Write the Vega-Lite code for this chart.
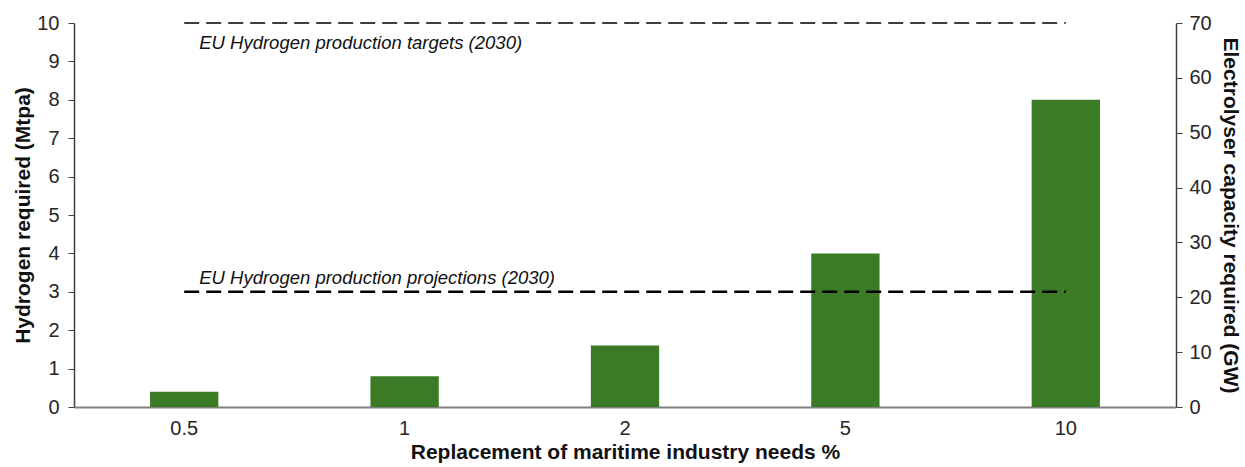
{
  "$schema": "https://vega.github.io/schema/vega-lite/v6.json",
  "width": 1102,
  "height": 384,
  "autosize": {"type": "none"},
  "padding": {"left": 74, "top": 23, "right": 69, "bottom": 60},
  "background": "white",
  "config": {
    "view": {"stroke": null},
    "font": "Liberation Sans",
    "axis": {
      "labelFont": "Liberation Sans",
      "titleFont": "Liberation Sans",
      "labelFontSize": 20,
      "titleFontSize": 21,
      "labelColor": "#262626",
      "titleColor": "#111111",
      "titleFontWeight": "bold",
      "labelOverlap": false,
      "labelFlush": false,
      "grid": false,
      "domainColor": "#404040",
      "tickColor": "#404040"
    }
  },
  "datasets": {
    "bars": [
      {"share": "0.5", "mtpa": 0.4, "gw": 2.8},
      {"share": "1", "mtpa": 0.8, "gw": 5.6},
      {"share": "2", "mtpa": 1.6, "gw": 11.2},
      {"share": "5", "mtpa": 4.0, "gw": 28},
      {"share": "10", "mtpa": 8.0, "gw": 56}
    ],
    "refs": [
      {"share": "0.5", "mtpa": 10, "series": "targets", "label": "EU Hydrogen production targets (2030)"},
      {"share": "10", "mtpa": 10, "series": "targets", "label": ""},
      {"share": "0.5", "mtpa": 3, "series": "projections", "label": "EU Hydrogen production projections (2030)"},
      {"share": "10", "mtpa": 3, "series": "projections", "label": ""}
    ]
  },
  "encoding": {
    "x": {
      "field": "share",
      "type": "ordinal",
      "sort": ["0.5", "1", "2", "5", "10"],
      "scale": {"paddingInner": 0.69, "paddingOuter": 0.345},
      "axis": {
        "title": "Replacement of maritime industry needs %",
        "labelAngle": 0,
        "ticks": false,
        "labelPadding": 11,
        "titlePadding": 3,
        "domainColor": "#808080",
        "domainWidth": 2
      }
    }
  },
  "layer": [
    {
      "data": {"name": "bars"},
      "mark": {"type": "bar", "color": "#3c7b25"},
      "encoding": {
        "y": {
          "field": "mtpa",
          "type": "quantitative",
          "scale": {"domain": [0, 10]},
          "axis": {
            "title": "Hydrogen required (Mtpa)",
            "orient": "left",
            "values": [0, 1, 2, 3, 4, 5, 6, 7, 8, 9, 10],
            "tickSize": 6,
            "labelPadding": 9,
            "titlePadding": 3,
            "domainWidth": 1.5
          }
        }
      }
    },
    {
      "data": {"name": "refs"},
      "transform": [{"filter": "datum.series === 'targets'"}],
      "layer": [
        {
          "mark": {"type": "line", "color": "black", "strokeWidth": 1.6, "strokeDash": [15, 7]},
          "encoding": {
            "y": {"field": "mtpa", "type": "quantitative", "scale": {"domain": [0, 10]}, "axis": null}
          }
        },
        {
          "mark": {"type": "text", "align": "left", "baseline": "middle", "fontStyle": "italic", "fontSize": 18.5, "color": "#111111", "dx": 15, "dy": 20},
          "encoding": {
            "y": {"field": "mtpa", "type": "quantitative", "scale": {"domain": [0, 10]}, "axis": null},
            "text": {"field": "label"}
          }
        }
      ]
    },
    {
      "data": {"name": "refs"},
      "transform": [{"filter": "datum.series === 'projections'"}],
      "layer": [
        {
          "mark": {"type": "line", "color": "black", "strokeWidth": 2.4, "strokeDash": [15, 7]},
          "encoding": {
            "y": {"field": "mtpa", "type": "quantitative", "scale": {"domain": [0, 10]}, "axis": null}
          }
        },
        {
          "mark": {"type": "text", "align": "left", "baseline": "middle", "fontStyle": "italic", "fontSize": 18.5, "color": "#111111", "dx": 15, "dy": -14},
          "encoding": {
            "y": {"field": "mtpa", "type": "quantitative", "scale": {"domain": [0, 10]}, "axis": null},
            "text": {"field": "label"}
          }
        }
      ]
    },
    {
      "data": {"name": "bars"},
      "mark": {"type": "tick", "opacity": 0},
      "encoding": {
        "y": {
          "field": "gw",
          "type": "quantitative",
          "scale": {"domain": [0, 70]},
          "axis": {
            "title": "Electrolyser capacity required (GW)",
            "orient": "right",
            "values": [0, 10, 20, 30, 40, 50, 60, 70],
            "tickSize": 6,
            "labelPadding": 7,
            "titlePadding": 8,
            "domainWidth": 1.5
          }
        }
      }
    }
  ],
  "resolve": {"scale": {"y": "independent"}}
}
